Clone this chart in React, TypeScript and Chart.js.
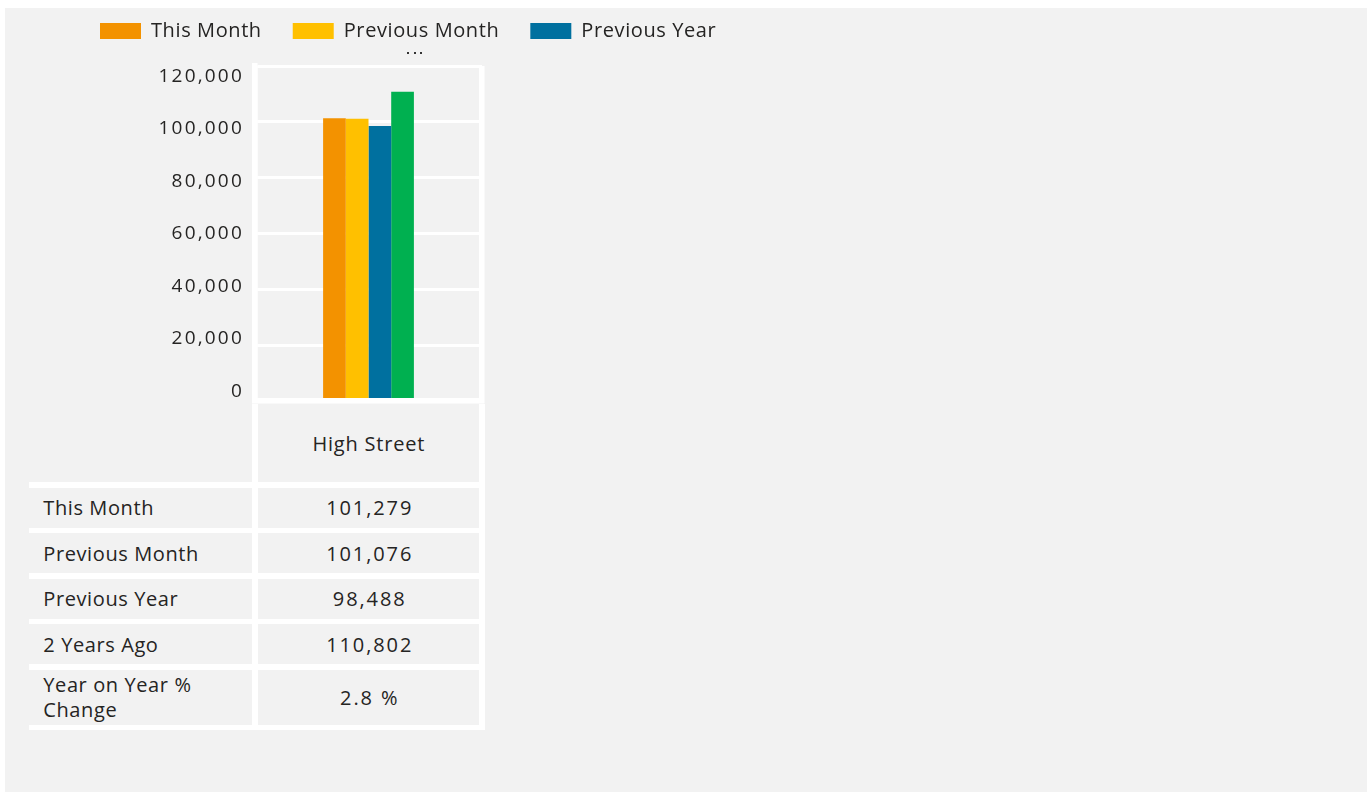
import React, { useEffect, useRef } from 'react';
import { Chart, registerables } from 'chart.js';

Chart.register(...registerables);

const categories = ['High Street'];
const seriesNames = ['This Month', 'Previous Month', 'Previous Year', '2 Years Ago'];
const thisMonth = [101279];
const previousMonth = [101076];
const previousYear = [98488];
const twoYearsAgo = [110802];
const yoyLabel = 'Year on Year % Change';
const yoyChange = ['2.8 %'];
const yTickValues = [0, 20000, 40000, 60000, 80000, 100000, 120000];
const seriesColors = ['#F39200', '#FFC000', '#00709F', '#00B050'];
const legendVisibleCount = 3;

const seriesValues = [thisMonth, previousMonth, previousYear, twoYearsAgo];

const FONT = "'Open Sans', sans-serif";
const TEXT = '#252423';
const PANEL = '#F2F2F2';

const fmt = (v: number) => v.toLocaleString('en-US');

export default function App() {
  const ref = useRef<HTMLCanvasElement>(null);

  useEffect(() => {
    const canvas = ref.current!;
    const spacing = {
      id: 'spacing',
      beforeLayout(chart: any) {
        chart.ctx.letterSpacing = '0.6px';
      },
      beforeDraw(chart: any) {
        chart.ctx.letterSpacing = '0.6px';
      },
      afterDatasetsDraw(chart: any) {
        chart.ctx.letterSpacing = '2.2px';
      },
    };
    const noPad = (s: any) => {
      s.paddingTop = 0;
      s.paddingBottom = 0;
      s.paddingLeft = 0;
      s.paddingRight = 0;
    };
    const chart = new Chart(canvas, {
      type: 'bar',
      data: {
        labels: categories,
        datasets: seriesValues.map((vals, i) => ({
          label: seriesNames[i],
          data: vals,
          backgroundColor: seriesColors[i],
          borderWidth: 0,
          categoryPercentage: 0.4,
          barPercentage: 1,
        })),
      },
      options: {
        responsive: false,
        animation: false,
        devicePixelRatio: 1,
        layout: { padding: { left: 69, right: 0, top: 0, bottom: 5 } },
        plugins: {
          legend: {
            display: true,
            position: 'top',
            align: 'start',
            labels: {
              boxWidth: 41,
              boxHeight: 16,
              padding: 31,
              color: TEXT,
              font: { family: FONT, size: 20 },
              filter: (item: any) => item.datasetIndex < legendVisibleCount,
            },
          },
          subtitle: {
            display: true,
            text: '',
            position: 'top',
            weight: 500,
            font: { size: 10 },
            padding: { top: 3, bottom: 0 },
          },
          title: { display: false },
          tooltip: { enabled: false },
        },
        scales: {
          x: {
            type: 'category',
            display: true,
            ticks: { display: false },
            grid: { color: '#FFFFFF', lineWidth: 5.5, drawTicks: false, offset: true },
            border: { display: true, color: '#FFFFFF', width: 5.5, z: 1 },
            afterFit: (s: any) => {
              s.height = 0;
              noPad(s);
            },
          },
          y: {
            type: 'linear',
            position: 'left',
            weight: 0,
            min: 0,
            max: 120000,
            ticks: { display: false, stepSize: 20000 },
            grid: { color: '#FFFFFF', lineWidth: 3, drawTicks: false },
            border: { display: true, color: '#FFFFFF', width: 5.5 },
            afterFit: (s: any) => {
              s.width = 0;
              noPad(s);
            },
          },
          yLabels: {
            type: 'linear',
            position: 'left',
            weight: 1,
            min: -3620,
            max: 124000,
            grid: { display: false, drawTicks: false },
            border: { display: false },
            ticks: {
              z: 1,
              padding: 11,
              color: TEXT,
              font: { family: FONT, size: 19 },
              callback: (v: any) => fmt(Number(v)),
            },
            afterBuildTicks: (s: any) => {
              s.ticks = yTickValues.map((v) => ({ value: v }));
            },
            afterFit: (s: any) => {
              s.width = 186;
              noPad(s);
            },
          },
          yRight: {
            type: 'linear',
            position: 'right',
            display: true,
            grid: { display: false },
            border: { display: false },
            ticks: { display: false },
            afterFit: (s: any) => {
              s.width = 318;
              noPad(s);
            },
          },
        },
      },
      plugins: [spacing],
    } as any);
    return () => chart.destroy();
  }, []);

  const rows: { label: string; value: string; tall?: boolean }[] = seriesNames.map((n, i) => ({
    label: n,
    value: fmt(seriesValues[i][0]),
  }));
  rows.push({ label: yoyLabel, value: yoyChange[0], tall: true });

  const textStyle: React.CSSProperties = {
    fontFamily: FONT,
    fontSize: 20,
    letterSpacing: '0.6px',
    color: TEXT,
  };

  return (
    <div
      style={{
        position: 'absolute',
        left: 0,
        top: 0,
        width: 1367,
        height: 792,
        background: '#FFFFFF',
        overflow: 'hidden',
      }}
    >
      <div
        style={{
          position: 'absolute',
          left: 5,
          top: 8,
          width: 1362,
          height: 784,
          background: PANEL,
        }}
      />
      <canvas
        ref={ref}
        width={800}
        height={416}
        style={{ position: 'absolute', left: 0, top: -10, width: 800, height: 416 }}
      />
      <div style={{ position: 'absolute', left: 407, top: 52, display: 'flex', gap: 4.7 }}>
        {[0, 1, 2].map((k) => (
          <span key={k} style={{ width: 2, height: 2, background: '#333333', display: 'block' }} />
        ))}
      </div>
      <div
        style={{
          position: 'absolute',
          left: 29.3,
          top: 404,
          display: 'grid',
          gridTemplateColumns: '223px 221px',
          columnGap: 6,
          rowGap: 5.6,
          paddingRight: 6,
          paddingBottom: 5.5,
          background: '#FFFFFF',
          ...textStyle,
        }}
      >
        <div style={{ background: PANEL, height: 78 }} />
        <div
          style={{
            background: PANEL,
            height: 78,
            display: 'flex',
            alignItems: 'center',
            justifyContent: 'center',
            letterSpacing: '0.8px',
          }}
        >
          {categories[0]}
        </div>
        {rows.map((r) => (
          <React.Fragment key={r.label}>
            <div
              style={{
                background: PANEL,
                height: r.tall ? 55 : 40,
                display: 'flex',
                alignItems: 'center',
                paddingLeft: 14,
                paddingRight: 12,
                lineHeight: '25px',
                boxSizing: 'border-box',
              }}
            >
              {r.label}
            </div>
            <div
              style={{
                background: PANEL,
                height: r.tall ? 55 : 40,
                display: 'flex',
                alignItems: 'center',
                justifyContent: 'center',
                letterSpacing: '1.9px',
                paddingLeft: 1.9,
              }}
            >
              {r.value}
            </div>
          </React.Fragment>
        ))}
      </div>
    </div>
  );
}
